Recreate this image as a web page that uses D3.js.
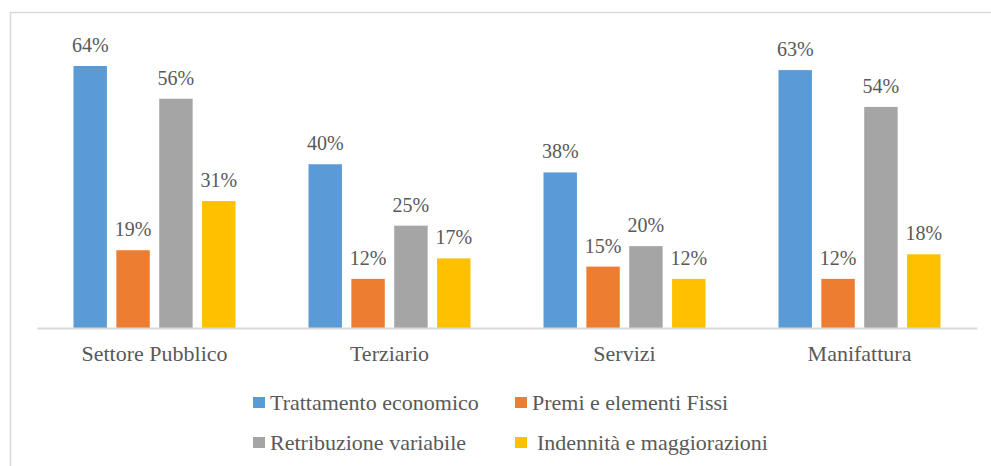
<!DOCTYPE html>
<html>
<head>
<meta charset="utf-8">
<script src="https://cdn.jsdelivr.net/npm/d3@7"></script>
<style>
  html, body { margin: 0; padding: 0; background: #fff; }
  svg { display: block; }
</style>
</head>
<body>
<svg id="chart" width="991" height="466"></svg>
<script>
const categories = ["Settore Pubblico", "Terziario", "Servizi", "Manifattura"];
const seriesNames = ["Trattamento economico", "Premi e elementi Fissi", "Retribuzione variabile", "Indennità e maggiorazioni"];
const trattamento = [64, 40, 38, 63];
const premi = [19, 12, 15, 12];
const retribuzione = [56, 25, 20, 54];
const indennita = [31, 17, 12, 18];
const colors = ["#5b9bd5", "#ed7d31", "#a5a5a5", "#ffc000"];

const seriesValues = [trattamento, premi, retribuzione, indennita];
const FONT = "'Liberation Serif', 'Times New Roman', serif";

const svg = d3.select("#chart");

// border
svg.append("rect").attr("x", 10.5).attr("y", 12.5).attr("width", 990).attr("height", 470)
  .attr("fill", "none").attr("stroke", "#d9d9d9").attr("stroke-width", 1.5);

const plotLeft = 37, plotRight = 977, baseline = 328;
const groupW = 162;
const x0 = d3.scaleBand().domain(categories).range([plotLeft, plotRight]).paddingInner(0).paddingOuter(0);
const x1 = d3.scaleBand().domain(d3.range(4)).range([0, groupW]).paddingInner(0.22).paddingOuter(0);
const y = d3.scaleLinear().domain([0, 64]).range([baseline, 66]);

const groupOffset = (x0.bandwidth() - groupW) / 2;

const g = svg.append("g");
categories.forEach((cat, ci) => {
  const gg = g.append("g").attr("transform", `translate(${x0(cat) + groupOffset},0)`);
  seriesValues.forEach((vals, si) => {
    const v = vals[ci];
    gg.append("rect")
      .attr("x", x1(si)).attr("y", y(v))
      .attr("width", x1.bandwidth()).attr("height", baseline - y(v))
      .attr("fill", colors[si]);
    gg.append("text")
      .attr("x", x1(si) + x1.bandwidth() / 2).attr("y", y(v) - 14)
      .attr("text-anchor", "middle")
      .style("font-family", FONT).style("font-size", "20px").style("fill", "#595959")
      .text(v + "%");
  });
});

// axis
const axis = svg.append("g").attr("transform", `translate(0,${baseline})`)
  .call(d3.axisBottom(x0).tickSize(0).tickPadding(0));
axis.select(".domain").attr("stroke", "#d9d9d9").attr("stroke-width", 2);
axis.selectAll(".tick text").attr("dy", 0).attr("y", 33)
  .style("font-family", FONT).style("font-size", "22px").style("fill", "#595959");

// legend
const legendPos = [[253, 403], [515, 403], [253, 443], [515, 443]];
const legend = svg.append("g");
seriesNames.forEach((name, i) => {
  const [lx, ly] = legendPos[i];
  legend.append("rect").attr("x", lx).attr("y", ly - 6).attr("width", 12).attr("height", 11).attr("fill", colors[i]);
  legend.append("text").attr("x", lx + (i === 3 ? 22 : 17)).attr("y", ly + 7)
    .style("font-family", FONT).style("font-size", "22px").style("fill", "#595959")
    .text(name);
});
</script>
</body>
</html>
